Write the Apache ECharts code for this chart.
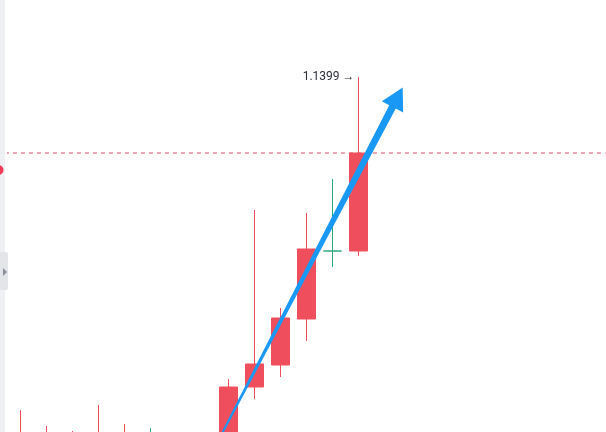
<!DOCTYPE html>
<html>
<head>
<meta charset="utf-8">
<script src="https://cdn.jsdelivr.net/npm/echarts@6/dist/echarts.min.js"></script>
<style>
html,body{margin:0;padding:0;background:#ffffff;}
#chart{width:606px;height:432px;}
</style>
</head>
<body>
<div id="chart"></div>
<script>
// Time slots (last 9 are empty future slots on the right)
var categories = ['09:00','10:00','11:00','12:00','13:00','14:00','15:00','16:00','17:00','18:00','19:00','20:00','21:00','22:00',
                  '23:00','00:00','01:00','02:00','03:00','04:00','05:00','06:00','07:00'];
// Candles: open, close, low, high
var opens  = [1.12025, 1.12025, 1.12000, 1.11975, 1.12025, 1.12175, 1.12025, 1.12000, 1.12150, 1.12440, 1.12550, 1.12780, 1.13120, 1.13120];
var closes = [1.12175, 1.12150, 1.12125, 1.12175, 1.12150, 1.12050, 1.12125, 1.12100, 1.12440, 1.12555, 1.12785, 1.13130, 1.13120, 1.13610];
var lows   = [1.11975, 1.11925, 1.11925, 1.11875, 1.11975, 1.11975, 1.11925, 1.11900, 1.12100, 1.12380, 1.12490, 1.12670, 1.13040, 1.13095];
var highs  = [1.12325, 1.12245, 1.12220, 1.12350, 1.12255, 1.12235, 1.12175, 1.12150, 1.12480, 1.13325, 1.12835, 1.13310, 1.13480, 1.13990];
var highLabel = '1.1399 →';
var lastClose = 1.13610;
// Trend arrow drawn on the chart: [slotFrom, priceFrom, slotTo, priceTo]
var arrowLine = [7.78, 1.12215, 14.70, 1.13938];

var candleData = opens.map(function (o, i) { return [o, closes[i], lows[i], highs[i]]; });

var UP = '#ef4f5c', DOWN = '#2fa77e', BLUE = '#1a98f5';
var N = categories.length;

var chart = echarts.init(document.getElementById('chart'), null, {renderer: 'canvas'});
var bandW = 26, gridLeft = 7.5;
chart.setOption({
  animation: false,
  backgroundColor: '#ffffff',
  grid: {left: gridLeft, top: 0, width: bandW * N, height: 432},
  xAxis: [
    {type: 'category', data: categories, show: false, boundaryGap: true},
    {type: 'value', min: -0.5, max: N - 0.5, show: false}
  ],
  yAxis: [{type: 'value', min: 1.12215, max: 1.14375, show: false}],
  series: [
    {
      type: 'line',
      xAxisIndex: 1,
      yAxisIndex: 0,
      silent: true,
      symbol: 'none',
      z: 1,
      data: [[-0.6, lastClose], [N - 0.5, lastClose]],
      lineStyle: {color: '#d9506e', type: [4, 4], width: 1}
    },
    {
      type: 'candlestick',
      clip: true,
      z: 2,
      data: candleData,
      barWidth: 19,
      itemStyle: {color: UP, color0: DOWN, borderColor: UP, borderColor0: DOWN, borderWidth: 1},
      markPoint: {
        silent: true,
        symbol: 'circle',
        symbolSize: 0,
        label: {show: true, position: 'left', distance: 4, formatter: highLabel,
                color: '#2b2f36', fontSize: 12, fontFamily: 'Roboto'},
        data: [{coord: [13, highs[13]]}]
      }
    },
    {
      type: 'custom',
      xAxisIndex: 1,
      yAxisIndex: 0,
      z: 10,
      clip: true,
      data: [arrowLine],
      encode: {x: [0, 2], y: [1, 3]},
      renderItem: function (params, api) {
        var a = api.coord([api.value(0), api.value(1)]);
        var b = api.coord([api.value(2), api.value(3)]);
        var dx = b[0] - a[0], dy = b[1] - a[1];
        var len = Math.sqrt(dx * dx + dy * dy);
        var ux = dx / len, uy = dy / len, nx = -uy, ny = ux;
        var headLen = 22, headHalf = 12, tail = 1.0, neck = 3.7;
        var hx = b[0] - ux * headLen, hy = b[1] - uy * headLen;
        var pts = [
          [a[0] + nx * tail, a[1] + ny * tail],
          [hx + nx * neck, hy + ny * neck],
          [hx + nx * headHalf, hy + ny * headHalf],
          [b[0], b[1]],
          [hx - nx * headHalf, hy - ny * headHalf],
          [hx - nx * neck, hy - ny * neck],
          [a[0] - nx * tail, a[1] - ny * tail]
        ];
        return {type: 'polygon', shape: {points: pts}, style: {fill: BLUE}};
      }
    }
  ],
  graphic: [
    {type: 'rect', left: 0, top: 0, shape: {width: 5, height: 432}, style: {fill: '#eef0f3'}, z: 100},
    {type: 'rect', left: 0, top: 252, shape: {width: 8, height: 38, r: [0, 2, 2, 0]}, style: {fill: '#e3e5e9'}, z: 101},
    {type: 'polygon', shape: {points: [[3, 268], [3, 276], [7, 272]]}, style: {fill: '#8a8f99'}, z: 102},
    {type: 'circle', shape: {cx: -1.5, cy: 170, r: 5}, style: {fill: '#f23d5a'}, z: 103}
  ]
});
</script>
</body>
</html>
